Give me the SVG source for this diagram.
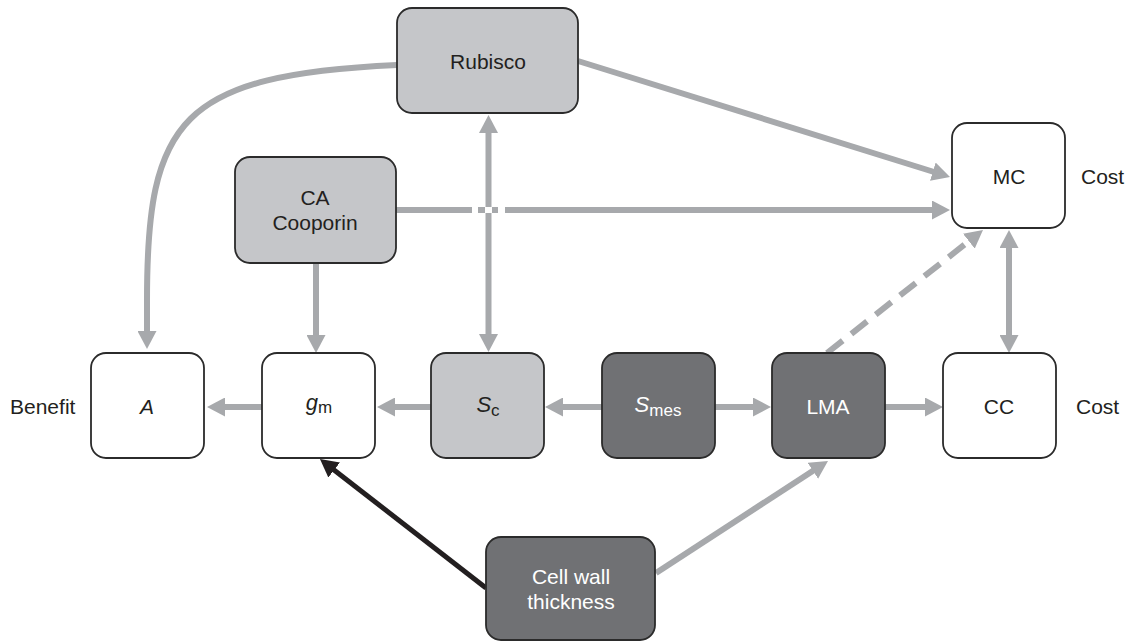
<svg xmlns="http://www.w3.org/2000/svg" width="1129" height="642" viewBox="0 0 1129 642">
<style>
.box{stroke:#2b2b2b;stroke-width:1.8}
.white{fill:#ffffff}
.light{fill:#c5c6c9}
.dark{fill:#707174}
.t{font-family:"Liberation Sans",Arial,sans-serif;font-size:21px;fill:#231f20;text-anchor:middle}
.tw{fill:#ffffff}
.lbl{font-family:"Liberation Sans",Arial,sans-serif;font-size:21px;fill:#231f20}
.it{font-style:italic;font-size:22px}
.sub{font-size:17px}
.c{fill:none;stroke:#a7a9ac;stroke-width:6}
.k{fill:none;stroke:#231f20;stroke-width:5}
</style>
<defs>
<marker id="ah" viewBox="0 0 18 19" refX="3" refY="9.5" markerWidth="18" markerHeight="19" markerUnits="userSpaceOnUse" orient="auto-start-reverse">
<path d="M0,0 L18,9.5 L0,19 z" fill="#a7a9ac"/>
</marker>
<marker id="ahk" viewBox="0 0 18 19" refX="3" refY="9.5" markerWidth="18" markerHeight="19" markerUnits="userSpaceOnUse" orient="auto-start-reverse">
<path d="M0,0 L18,9.5 L0,19 z" fill="#231f20"/>
</marker>
</defs>
<g id="connectors">
<line class="c" x1="578" y1="61" x2="935.7" y2="172.5" marker-end="url(#ah)"/>
<line class="c" x1="396" y1="210" x2="472" y2="210"/>
<line class="c" x1="478" y1="210" x2="485" y2="210"/>
<line class="c" x1="492" y1="210" x2="498" y2="210"/>
<line class="c" x1="505" y1="210" x2="935" y2="210" marker-end="url(#ah)"/>
<line class="c" x1="488.5" y1="130" x2="488.5" y2="207" marker-start="url(#ah)"/>
<line class="c" x1="488.5" y1="213" x2="488.5" y2="337" marker-end="url(#ah)"/>
<path class="c" d="M397,65 C180,75 147,120 147,300 L147,334" marker-end="url(#ah)"/>
<line class="c" x1="316" y1="263" x2="316" y2="338" marker-end="url(#ah)"/>
<line class="c" x1="262" y1="407" x2="222" y2="407" marker-end="url(#ah)"/>
<line class="c" x1="431" y1="407" x2="392" y2="407" marker-end="url(#ah)"/>
<line class="c" x1="602" y1="407" x2="560" y2="407" marker-end="url(#ah)"/>
<line class="c" x1="715" y1="407" x2="756" y2="407" marker-end="url(#ah)"/>
<line class="c" x1="885" y1="407" x2="928" y2="407" marker-end="url(#ah)"/>
<line class="c" x1="1009" y1="245" x2="1009" y2="338" marker-start="url(#ah)" marker-end="url(#ah)"/>
<line class="c" x1="827" y1="353" x2="971.2" y2="239.3" stroke-dasharray="20 11" marker-end="url(#ah)"/>
<line class="k" x1="486" y1="588" x2="331.8" y2="468.2" marker-end="url(#ahk)"/>
<line class="c" x1="656" y1="573" x2="815.4" y2="469.2" stroke-width="5" marker-end="url(#ah)"/>
</g>
<g id="rubisco">
<rect class="box light" x="397" y="8" width="181" height="105" rx="15"/>
<text class="t" x="488" y="68.5">Rubisco</text>
</g>
<g id="ca-cooporin">
<rect class="box light" x="235" y="157" width="161" height="106" rx="15"/>
<text class="t" x="315" y="205">CA</text>
<text class="t" x="315" y="230">Cooporin</text>
</g>
<g id="mc">
<rect class="box white" x="952" y="123" width="113" height="105" rx="15"/>
<text class="t" x="1009" y="184">MC</text>
</g>
<g id="a">
<rect class="box white" x="91" y="353" width="113" height="105" rx="15"/>
<text class="t" x="147" y="414" font-style="italic">A</text>
</g>
<g id="gm">
<rect class="box white" x="262" y="353" width="113" height="105" rx="15"/>
<text class="t" x="319" y="410"><tspan class="it">g</tspan><tspan class="sub" dy="3">m</tspan></text>
</g>
<g id="sc">
<rect class="box light" x="431" y="353" width="113" height="105" rx="15"/>
<text class="t" x="488" y="412"><tspan class="it">S</tspan><tspan class="sub" dy="4">c</tspan></text>
</g>
<g id="smes">
<rect class="box dark" x="602" y="353" width="113" height="105" rx="15"/>
<text class="t tw" x="658" y="412"><tspan class="it">S</tspan><tspan class="sub" dy="4">mes</tspan></text>
</g>
<g id="lma">
<rect class="box dark" x="772" y="353" width="113" height="105" rx="15"/>
<text class="t tw" x="828" y="414">LMA</text>
</g>
<g id="cc">
<rect class="box white" x="943" y="353" width="113" height="105" rx="15"/>
<text class="t" x="999" y="414">CC</text>
</g>
<g id="cell-wall">
<rect class="box dark" x="486" y="537" width="169" height="103" rx="15"/>
<text class="t tw" x="571" y="584">Cell wall</text>
<text class="t tw" x="571" y="609">thickness</text>
</g>
<g id="labels">
<text class="lbl" x="10" y="414">Benefit</text>
<text class="lbl" x="1081" y="184">Cost</text>
<text class="lbl" x="1076" y="414">Cost</text>
</g>
</svg>
